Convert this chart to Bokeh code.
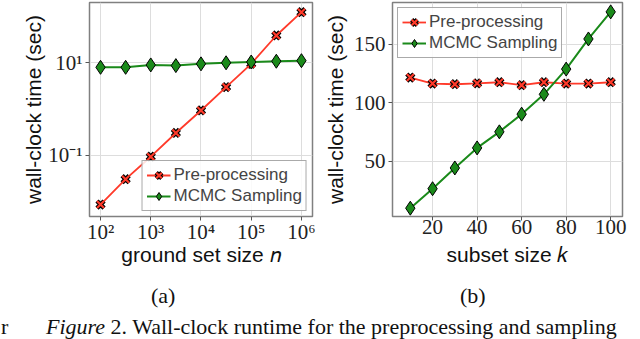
from bokeh.plotting import figure
from bokeh.models import FixedTicker, Legend, LegendItem, Div, Range1d
from bokeh.layouts import column, row
from bokeh.embed import file_html
from bokeh.resources import INLINE

# ---------------- data ----------------
n_vals = [1e2, 3.16e2, 1e3, 3.16e3, 1e4, 3.16e4, 1e5, 3.16e5, 1e6]
pre_a = [0.0085, 0.030, 0.092, 0.30, 0.92, 2.95, 9.4, 38.6, 123.0]
mcmc_a = [7.9, 7.9, 8.9, 8.6, 9.4, 9.9, 10.3, 10.7, 11.0]

k_vals = [10, 20, 30, 40, 50, 60, 70, 80, 90, 100]
pre_b = [121.4, 116.3, 115.7, 116.5, 117.4, 114.9, 117.4, 116.3, 116.3, 117.4]
mcmc_b = [10.0, 26.6, 44.3, 61.4, 75.1, 90.2, 107.1, 128.6, 154.3, 177.4]

a_xticks = [1e2, 1e3, 1e4, 1e5, 1e6]
a_xlabels = ["10²", "10³", "10⁴", "10⁵", "10⁶"]
a_yticks = [0.1, 10.0]
a_ylabels = ["10⁻¹", "10¹"]
b_xticks = [20, 40, 60, 80, 100]
b_yticks = [50, 100, 150]

series_names = ["Pre-processing", "MCMC Sampling"]
RED = "#ff3a2a"
GREEN = "#1a8a1a"
SANS = "Liberation Sans"
SERIF = "Liberation Serif"


def style(p, xlabel, ylabel, xlabel_standoff, ylabel_standoff):
    p.outline_line_color = "#808080"
    p.outline_line_width = 1.5
    p.outline_line_alpha = 1.0
    for ax in (p.xaxis, p.yaxis):
        ax.axis_line_color = None
        ax.major_tick_line_color = "#555555"
        ax.major_tick_out = 4
        ax.major_tick_in = 0
        ax.minor_tick_line_color = None
        ax.major_label_text_font = SERIF
        ax.major_label_text_font_size = "21px"
        ax.major_label_text_color = "#222222"
        ax.axis_label_text_font = SANS
        ax.axis_label_text_font_size = "21px"
        ax.axis_label_text_font_style = "normal"
        ax.axis_label_text_color = "#111111"
    p.xaxis.axis_label = xlabel
    p.yaxis.axis_label = ylabel
    p.xaxis.major_label_standoff = -1
    p.yaxis.major_label_standoff = 3
    p.xaxis.axis_label_standoff = xlabel_standoff
    p.yaxis.axis_label_standoff = ylabel_standoff
    p.grid.grid_line_color = "#dddddd"
    p.grid.grid_line_width = 1
    p.background_fill_color = "white"
    p.border_fill_color = "white"


def draw(p, xs, pre, mcmc, loc):
    l1 = p.line(xs, pre, line_color=RED, line_width=1.8)
    m1a = p.scatter(xs, pre, marker="x", size=10, line_color="black", line_width=4.5)
    m1b = p.scatter(xs, pre, marker="x", size=10, line_color=RED, line_width=2.2)
    l2 = p.line(xs, mcmc, line_color=GREEN, line_width=2)
    m2 = p.scatter(xs, mcmc, marker="diamond", size=14, fill_color=GREEN,
                   line_color="black", line_width=1)
    legend = Legend(items=[LegendItem(label=series_names[0], renderers=[l1, m1a, m1b]),
                           LegendItem(label=series_names[1], renderers=[l2, m2])],
                    location=loc, margin=5, padding=4, spacing=1,
                    glyph_width=24, glyph_height=20, label_height=20,
                    label_standoff=3, label_text_font=SANS,
                    label_text_font_size="17px",
                    border_line_color="#555555", border_line_width=1,
                    background_fill_alpha=0.85)
    p.add_layout(legend)


# ---------------- panel (a) ----------------
pa = figure(width=320, height=272, x_axis_type="log", y_axis_type="log",
            x_range=Range1d(60.3, 1.66e6), y_range=Range1d(0.00468, 199.5),
            output_backend="svg", toolbar_location=None,
            min_border_left=89, min_border_right=8, min_border_top=2,
            min_border_bottom=56)
draw(pa, n_vals, pre_a, mcmc_a, "bottom_right")
style(pa, "ground set size 𝑛", "wall-clock time (sec)", -4, 0)
pa.xaxis.ticker = FixedTicker(ticks=a_xticks, minor_ticks=[])
pa.yaxis.ticker = FixedTicker(ticks=a_yticks, minor_ticks=[])
pa.xaxis.major_label_overrides = dict(zip(a_xticks, a_xlabels))
pa.yaxis.major_label_overrides = dict(zip(a_yticks, a_ylabels))

# ---------------- panel (b) ----------------
pb = figure(width=320, height=272,
            x_range=Range1d(2.0, 105.3), y_range=Range1d(2.9, 185.4),
            output_backend="svg", toolbar_location=None,
            min_border_left=69, min_border_right=18, min_border_top=2,
            min_border_bottom=56)
draw(pb, k_vals, pre_b, mcmc_b, "top_left")
style(pb, "subset size 𝑘", "wall-clock time (sec)", 6, 4)
pb.xaxis.ticker = FixedTicker(ticks=b_xticks, minor_ticks=[])
pb.yaxis.ticker = FixedTicker(ticks=b_yticks, minor_ticks=[])

SPAN = "position:absolute;line-height:20px;"
caption = Div(
    text=('<div style="position:relative;width:640px;height:67px;overflow:hidden;'
          'white-space:nowrap;font-family:\'Liberation Serif\';font-size:22px;'
          'color:#111;">'
          f'<span style="{SPAN}left:151px;top:14px;">(a)</span>'
          f'<span style="{SPAN}left:460px;top:14px;">(b)</span>'
          f'<span style="{SPAN}left:1px;top:45px;">r</span>'
          f'<span style="{SPAN}left:46px;top:45px;"><i>Figure</i> 2. '
          'Wall-clock runtime for the preprocessing and sampling</span></div>'),
    width=640, height=67, margin=(0, 0, 0, 0))

layout = column(row(pa, pb), caption)

open("out.html", "w").write(file_html(layout, INLINE))
